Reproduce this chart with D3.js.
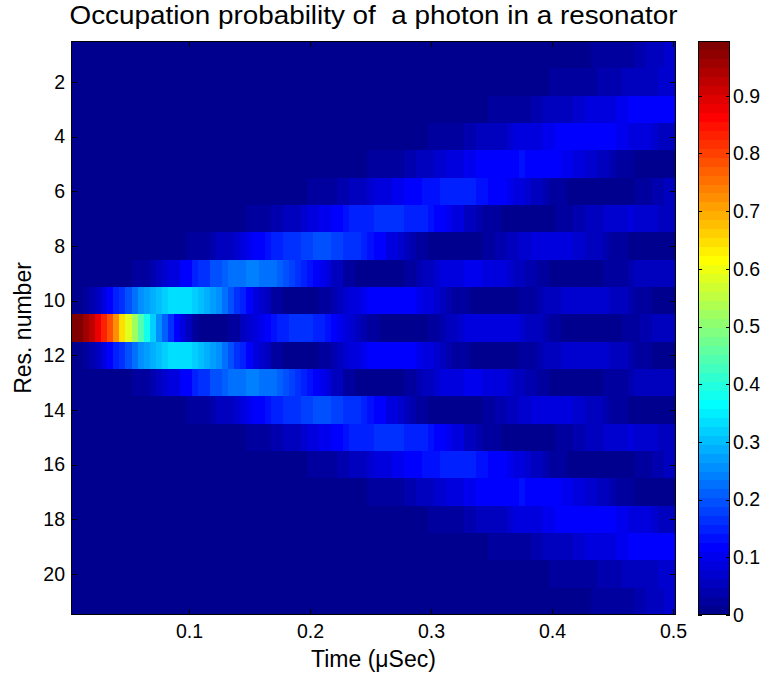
<!DOCTYPE html>
<html>
<head>
<meta charset="utf-8">
<script src="https://cdn.jsdelivr.net/npm/d3@7"></script>
<style>
  body { margin: 0; background: #fff; }
  svg { display: block; font-family: 'Liberation Sans', Arial, sans-serif; }
</style>
</head>
<body>
<svg id="chart"></svg>
<script>
// occupation probability in percent, one row per resonator, one value per time step
var res01 = [0,0,0,0,0,0,0,0,0,0, 0,0,0,0,0,0,0,0,0,0, 0,0,0,0,0,0,0,0,0,0, 0,0,0,0,0,0,0,0,0,0,
  0,0,0,0,0,0,0,0,0,0, 0,0,0,0,0,0,0,0,0,0, 0,0,0,0,0,0,0,0,0,0, 0,0,0,0,0,0,0,0,0,0,
  1,1,1,1,1,1,2,2,2,2, 3,3,3,4,4,5,5,6,7,7];
var res02 = [0,0,0,0,0,0,0,0,0,0, 0,0,0,0,0,0,0,0,0,0, 0,0,0,0,0,0,0,0,0,0, 0,0,0,0,0,0,0,0,0,0,
  0,0,0,0,0,0,0,0,0,0, 0,0,0,0,0,0,0,0,0,0, 0,0,0,0,0,0,0,0,0,0, 0,0,1,1,1,1,1,1,1,2,
  2,2,2,2,3,3,3,4,4,4, 4,5,5,5,6,6,6,7,7,7];
var res03 = [0,0,0,0,0,0,0,0,0,0, 0,0,0,0,0,0,0,0,0,0, 0,0,0,0,0,0,0,0,0,0, 0,0,0,0,0,0,0,0,0,0,
  0,0,0,0,0,0,0,0,0,0, 0,0,0,0,0,0,0,0,0,0, 0,0,1,1,1,1,1,1,1,2, 2,2,2,3,3,3,4,4,5,5,
  5,6,6,7,7,8,8,9,9,9, 10,10,11,11,11,11,11,11,11,11];
var res04 = [0,0,0,0,0,0,0,0,0,0, 0,0,0,0,0,0,0,0,0,0, 0,0,0,0,0,0,0,0,0,0, 0,0,0,0,0,0,0,0,0,0,
  0,0,0,0,0,0,0,0,0,0, 0,0,1,1,1,1,1,1,1,2, 2,2,3,3,3,4,4,5,5,5, 6,6,7,8,8,9,9,9,10,10,
  11,11,11,11,11,11,11,11,11,11, 10,10,9,9,8,8,7,6,5,5];
var res05 = [0,0,0,0,0,0,0,0,0,0, 0,0,0,0,0,0,0,0,0,0, 0,0,0,0,0,0,0,0,0,0, 0,0,0,0,0,0,0,0,0,0,
  0,0,0,1,1,1,1,1,1,2, 2,2,3,3,3,4,4,5,5,6, 7,7,8,8,9,10,10,11,11,12, 12,12,12,12,13,12,12,12,12,11,
  11,10,10,9,8,7,7,6,5,4, 3,3,2,1,1,1,0,0,0,0];
var res06 = [0,0,0,0,0,0,0,0,0,0, 0,0,0,0,0,0,0,0,0,0, 0,0,0,0,0,0,0,0,0,0, 0,0,0,1,1,1,1,1,1,2,
  2,2,3,3,4,4,5,6,6,7, 8,8,9,10,10,11,12,12,13,13, 13,14,14,14,14,14,14,13,13,12, 11,11,10,9,8,7,6,5,4,3,
  3,2,1,1,0,0,0,0,0,0, 1,1,1,2,3,3,4,4,5,5];
var res07 = [0,0,0,0,0,0,0,0,0,0, 0,0,0,0,0,0,0,0,0,0, 0,0,0,0,1,1,1,1,1,2, 2,3,3,4,4,5,6,6,7,8,
  9,10,10,11,12,13,14,14,15,15, 16,16,16,16,16,15,15,14,14,13, 12,11,10,9,8,6,5,4,3,2, 2,1,1,0,0,0,0,0,1,1,
  2,2,3,4,4,5,6,6,7,7, 7,7,8,7,7,7,7,6,5,5];
var res08 = [0,0,0,0,0,0,0,0,0,0, 0,0,0,0,0,1,1,1,1,2, 2,3,3,4,5,6,6,7,8,10, 11,12,13,14,15,16,17,17,18,18,
  19,19,19,18,18,17,17,16,15,13, 12,11,9,8,7,5,4,3,2,1, 1,0,0,0,0,0,1,1,2,3, 4,4,5,6,7,7,8,8,8,8,
  8,8,8,7,7,6,6,5,4,3, 3,2,1,1,0,0,0,0,0,0];
var res09 = [0,0,0,0,0,0,0,1,1,1, 2,3,3,4,5,7,8,9,11,12, 14,16,17,19,20,21,22,23,23,24, 24,23,23,22,21,20,18,17,15,13,
  11,10,8,6,5,3,2,1,1,0, 0,0,0,1,1,2,3,4,5,6, 7,8,8,9,9,10,10,10,9,9, 9,8,7,6,5,4,4,3,2,1,
  1,0,0,0,0,0,1,1,2,2, 3,3,4,5,5,6,6,6,6,6];
var res10 = [0,1,2,4,6,8,11,14,16,19, 22,25,27,29,31,32,33,34,34,33, 32,31,29,27,25,22,20,17,14,11, 9,7,5,3,2,1,0,0,0,0,
  1,2,3,4,5,7,8,9,10,11, 11,12,12,12,12,11,11,10,9,8, 7,5,4,3,2,2,1,0,0,0, 0,0,1,1,2,3,3,4,5,6,
  6,7,7,7,7,7,7,7,7,6, 5,5,4,3,3,2,1,1,0,0];
var res11 = [99,98,96,92,88,83,78,72,65,59, 52,45,38,32,26,21,16,12,8,5, 3,1,0,0,0,1,2,3,5,7, 9,10,12,13,14,15,16,16,16,16,
  15,14,13,12,10,9,7,6,4,3, 2,1,1,0,0,0,0,1,1,2, 3,4,5,6,7,8,8,9,9,9, 9,9,8,8,7,6,5,5,4,3,
  2,1,1,0,0,0,0,0,0,1, 1,2,2,3,4,4,5,5,6,6];
var res12 = [0,1,2,4,6,8,11,14,16,19, 22,25,27,29,31,32,33,34,34,33, 32,31,29,27,25,22,20,17,14,11, 9,7,5,3,2,1,0,0,0,0,
  1,2,3,4,5,7,8,9,10,11, 11,12,12,12,12,11,11,10,9,8, 7,5,4,3,2,2,1,0,0,0, 0,0,1,1,2,3,3,4,5,6,
  6,7,7,7,7,7,7,7,7,6, 5,5,4,3,3,2,1,1,0,0];
var res13 = [0,0,0,0,0,0,0,1,1,1, 2,3,3,4,5,7,8,9,11,12, 14,16,17,19,20,21,22,23,23,24, 24,23,23,22,21,20,18,17,15,13,
  11,10,8,6,5,3,2,1,1,0, 0,0,0,1,1,2,3,4,5,6, 7,8,8,9,9,10,10,10,9,9, 9,8,7,6,5,4,4,3,2,1,
  1,0,0,0,0,0,1,1,2,2, 3,3,4,5,5,6,6,6,6,6];
var res14 = [0,0,0,0,0,0,0,0,0,0, 0,0,0,0,0,1,1,1,1,2, 2,3,3,4,5,6,6,7,8,10, 11,12,13,14,15,16,17,17,18,18,
  19,19,19,18,18,17,17,16,15,13, 12,11,9,8,7,5,4,3,2,1, 1,0,0,0,0,0,1,1,2,3, 4,4,5,6,7,7,8,8,8,8,
  8,8,8,7,7,6,6,5,4,3, 3,2,1,1,0,0,0,0,0,0];
var res15 = [0,0,0,0,0,0,0,0,0,0, 0,0,0,0,0,0,0,0,0,0, 0,0,0,0,1,1,1,1,1,2, 2,3,3,4,4,5,6,6,7,8,
  9,10,10,11,12,13,14,14,15,15, 16,16,16,16,16,15,15,14,14,13, 12,11,10,9,8,6,5,4,3,2, 2,1,1,0,0,0,0,0,1,1,
  2,2,3,4,4,5,6,6,7,7, 7,7,8,7,7,7,7,6,5,5];
var res16 = [0,0,0,0,0,0,0,0,0,0, 0,0,0,0,0,0,0,0,0,0, 0,0,0,0,0,0,0,0,0,0, 0,0,0,1,1,1,1,1,1,2,
  2,2,3,3,4,4,5,6,6,7, 8,8,9,10,10,11,12,12,13,13, 13,14,14,14,14,14,14,13,13,12, 11,11,10,9,8,7,6,5,4,3,
  3,2,1,1,0,0,0,0,0,0, 1,1,1,2,3,3,4,4,5,5];
var res17 = [0,0,0,0,0,0,0,0,0,0, 0,0,0,0,0,0,0,0,0,0, 0,0,0,0,0,0,0,0,0,0, 0,0,0,0,0,0,0,0,0,0,
  0,0,0,1,1,1,1,1,1,2, 2,2,3,3,3,4,4,5,5,6, 7,7,8,8,9,10,10,11,11,12, 12,12,12,12,13,12,12,12,12,11,
  11,10,10,9,8,7,7,6,5,4, 3,3,2,1,1,1,0,0,0,0];
var res18 = [0,0,0,0,0,0,0,0,0,0, 0,0,0,0,0,0,0,0,0,0, 0,0,0,0,0,0,0,0,0,0, 0,0,0,0,0,0,0,0,0,0,
  0,0,0,0,0,0,0,0,0,0, 0,0,1,1,1,1,1,1,1,2, 2,2,3,3,3,4,4,5,5,5, 6,6,7,8,8,9,9,9,10,10,
  11,11,11,11,11,11,11,11,11,11, 10,10,9,9,8,8,7,6,5,5];
var res19 = [0,0,0,0,0,0,0,0,0,0, 0,0,0,0,0,0,0,0,0,0, 0,0,0,0,0,0,0,0,0,0, 0,0,0,0,0,0,0,0,0,0,
  0,0,0,0,0,0,0,0,0,0, 0,0,0,0,0,0,0,0,0,0, 0,0,1,1,1,1,1,1,1,2, 2,2,2,3,3,3,4,4,5,5,
  5,6,6,7,7,8,8,9,9,9, 10,10,11,11,11,11,11,11,11,11];
var res20 = [0,0,0,0,0,0,0,0,0,0, 0,0,0,0,0,0,0,0,0,0, 0,0,0,0,0,0,0,0,0,0, 0,0,0,0,0,0,0,0,0,0,
  0,0,0,0,0,0,0,0,0,0, 0,0,0,0,0,0,0,0,0,0, 0,0,0,0,0,0,0,0,0,0, 0,0,1,1,1,1,1,1,1,2,
  2,2,2,2,3,3,3,4,4,4, 4,5,5,5,6,6,6,7,7,7];
var res21 = [0,0,0,0,0,0,0,0,0,0, 0,0,0,0,0,0,0,0,0,0, 0,0,0,0,0,0,0,0,0,0, 0,0,0,0,0,0,0,0,0,0,
  0,0,0,0,0,0,0,0,0,0, 0,0,0,0,0,0,0,0,0,0, 0,0,0,0,0,0,0,0,0,0, 0,0,0,0,0,0,0,0,0,0,
  1,1,1,1,1,1,2,2,2,2, 3,3,3,4,4,5,5,6,7,7];

var rows = [res01, res02, res03, res04, res05, res06, res07, res08, res09, res10, res11,
            res12, res13, res14, res15, res16, res17, res18, res19, res20, res21];
var resonators = d3.range(1, 22);
var timeStep = 0.005;   // uSec between samples, first sample at one step
var times = d3.range(1, 101).map(function(k) { return +(k * timeStep).toFixed(3); });

var xTicks = [0.1, 0.2, 0.3, 0.4, 0.5];
var yTicks = [2, 4, 6, 8, 10, 12, 14, 16, 18, 20];
var colorTicks = [0, 0.1, 0.2, 0.3, 0.4, 0.5, 0.6, 0.7, 0.8, 0.9];
var colorMax = 0.995;

// matlab style jet colormap with m entries
function jetColors(m) {
    var n = Math.ceil(m / 4);
    var u = [], i;
    for (i = 1; i <= n; i++) u.push(i / n);
    for (i = 1; i < n; i++) u.push(1);
    for (i = n; i >= 1; i--) u.push(i / n);
    var g0 = Math.ceil(n / 2) - (m % 4 === 1 ? 1 : 0);
    function pick(j) { return (j >= 1 && j <= u.length) ? u[j - 1] : 0; }
    var colors = [];
    for (var k = 1; k <= m; k++) {
        colors.push(d3.rgb(pick(k - g0 - n) * 255, pick(k - g0) * 255,
                           pick(k - g0 + n) * 255).formatHex());
    }
    return colors;
}

var chart = {
    width: 767,
    height: 677,
    plot: { left: 71, top: 41, right: 676, bottom: 615 },
    bar: { left: 698, right: 730 },
    tickFont: '19.5px',
    labelFont: '23px',

    init: function() {
        var self = this;

        self.svg = d3.select('#chart')
            .attr('width', self.width)
            .attr('height', self.height);

        self.x = d3.scaleLinear()
            .domain([times[0] - timeStep / 2, times[times.length - 1] + timeStep / 2])
            .range([self.plot.left, self.plot.right]);

        self.y = d3.scaleLinear()
            .domain([0.5, resonators.length + 0.5])
            .range([self.plot.top, self.plot.bottom]);

        self.jet = jetColors(64);
        self.color = d3.scaleQuantize()
            .domain([0, colorMax])
            .range(self.jet);

        self.drawCells();
        self.drawAxes();
        self.drawColorbar();
        self.drawLabels();
    },

    drawCells: function() {
        var self = this;
        var cells = [];
        rows.forEach(function(vals, i) {
            vals.forEach(function(v, j) {
                cells.push({ res: resonators[i], t: times[j], p: v / 100 });
            });
        });

        self.svg.append('g')
            .attr('class', 'cells')
            .selectAll('rect')
            .data(cells)
            .enter().append('rect')
            .attr('shape-rendering', 'crispEdges')
            .attr('x', function(d) { return Math.round(self.x(d.t - timeStep / 2)); })
            .attr('width', function(d) {
                return Math.round(self.x(d.t + timeStep / 2)) - Math.round(self.x(d.t - timeStep / 2));
            })
            .attr('y', function(d) { return Math.round(self.y(d.res - 0.5)); })
            .attr('height', function(d) {
                return Math.round(self.y(d.res + 0.5)) - Math.round(self.y(d.res - 0.5));
            })
            .attr('fill', function(d) { return self.color(d.p); });
    },

    styleAxis: function(g) {
        var self = this;
        g.select('.domain').remove();
        g.selectAll('line').attr('stroke', '#000').attr('shape-rendering', 'crispEdges');
        g.selectAll('text')
            .attr('fill', '#000')
            .style('font-size', self.tickFont)
            .style('font-family', "'Liberation Sans', Arial, sans-serif");
    },

    drawAxes: function() {
        var self = this;
        var p = self.plot;
        var fmt = function(d) { return String(d); };

        self.svg.append('g')
            .attr('transform', 'translate(0,' + p.bottom + ')')
            .call(d3.axisBottom(self.x).tickValues(xTicks).tickFormat(fmt)
                .tickSizeInner(-6).tickSizeOuter(0).tickPadding(9))
            .call(self.styleAxis.bind(self));

        self.svg.append('g')
            .attr('transform', 'translate(0,' + p.top + ')')
            .call(d3.axisTop(self.x).tickValues(xTicks).tickFormat('')
                .tickSizeInner(-6).tickSizeOuter(0))
            .call(self.styleAxis.bind(self));

        self.svg.append('g')
            .attr('transform', 'translate(' + p.left + ',0)')
            .call(d3.axisLeft(self.y).tickValues(yTicks).tickFormat(fmt)
                .tickSizeInner(-6).tickSizeOuter(0).tickPadding(6))
            .call(self.styleAxis.bind(self));

        self.svg.append('g')
            .attr('transform', 'translate(' + p.right + ',0)')
            .call(d3.axisRight(self.y).tickValues(yTicks).tickFormat('')
                .tickSizeInner(-6).tickSizeOuter(0))
            .call(self.styleAxis.bind(self));

        self.svg.append('rect')
            .attr('x', p.left + 0.5)
            .attr('y', p.top + 0.5)
            .attr('width', p.right - p.left - 1)
            .attr('height', p.bottom - p.top - 1)
            .attr('fill', 'none')
            .attr('stroke', '#000');
    },

    drawColorbar: function() {
        var self = this;
        var b = self.bar, p = self.plot;

        self.cy = d3.scaleLinear()
            .domain([0, colorMax])
            .range([p.bottom, p.top]);

        var steps = self.jet.map(function(c, i) {
            return { lo: i * colorMax / self.jet.length, hi: (i + 1) * colorMax / self.jet.length, c: c };
        });

        self.svg.append('g')
            .selectAll('rect')
            .data(steps)
            .enter().append('rect')
            .attr('shape-rendering', 'crispEdges')
            .attr('x', b.left)
            .attr('width', b.right - b.left)
            .attr('y', function(d) { return Math.round(self.cy(d.hi)); })
            .attr('height', function(d) { return Math.round(self.cy(d.lo)) - Math.round(self.cy(d.hi)); })
            .attr('fill', function(d) { return d.c; });

        self.svg.append('g')
            .attr('transform', 'translate(' + b.right + ',0)')
            .call(d3.axisRight(self.cy).tickValues(colorTicks).tickFormat(function(d) { return String(d); })
                .tickSizeInner(-4).tickSizeOuter(0).tickPadding(3))
            .call(self.styleAxis.bind(self));

        self.svg.append('g')
            .attr('transform', 'translate(' + b.left + ',0)')
            .call(d3.axisLeft(self.cy).tickValues(colorTicks).tickFormat('')
                .tickSizeInner(-4).tickSizeOuter(0))
            .call(self.styleAxis.bind(self));

        self.svg.append('rect')
            .attr('x', b.left + 0.5)
            .attr('y', p.top + 0.5)
            .attr('width', b.right - b.left - 1)
            .attr('height', p.bottom - p.top - 1)
            .attr('fill', 'none')
            .attr('stroke', '#000');
    },

    drawLabels: function() {
        var self = this;
        var p = self.plot;
        var cx = (p.left + p.right) / 2;

        self.svg.append('text')
            .attr('x', cx)
            .attr('y', 24)
            .attr('text-anchor', 'middle')
            .attr('textLength', 608)
            .attr('lengthAdjust', 'spacingAndGlyphs')
            .style('white-space', 'pre')
            .style('font-size', '25.5px')
            .text('Occupation probability of  a photon in a resonator');

        self.svg.append('text')
            .attr('x', cx)
            .attr('y', 667)
            .attr('text-anchor', 'middle')
            .style('font-size', self.labelFont)
            .text('Time (\u03bcSec)');

        self.svg.append('text')
            .attr('transform', 'translate(31,' + (p.top + p.bottom) / 2 + ') rotate(-90)')
            .attr('text-anchor', 'middle')
            .style('font-size', self.labelFont)
            .text('Res. number');
    }
};

chart.init();
</script>
</body>
</html>
